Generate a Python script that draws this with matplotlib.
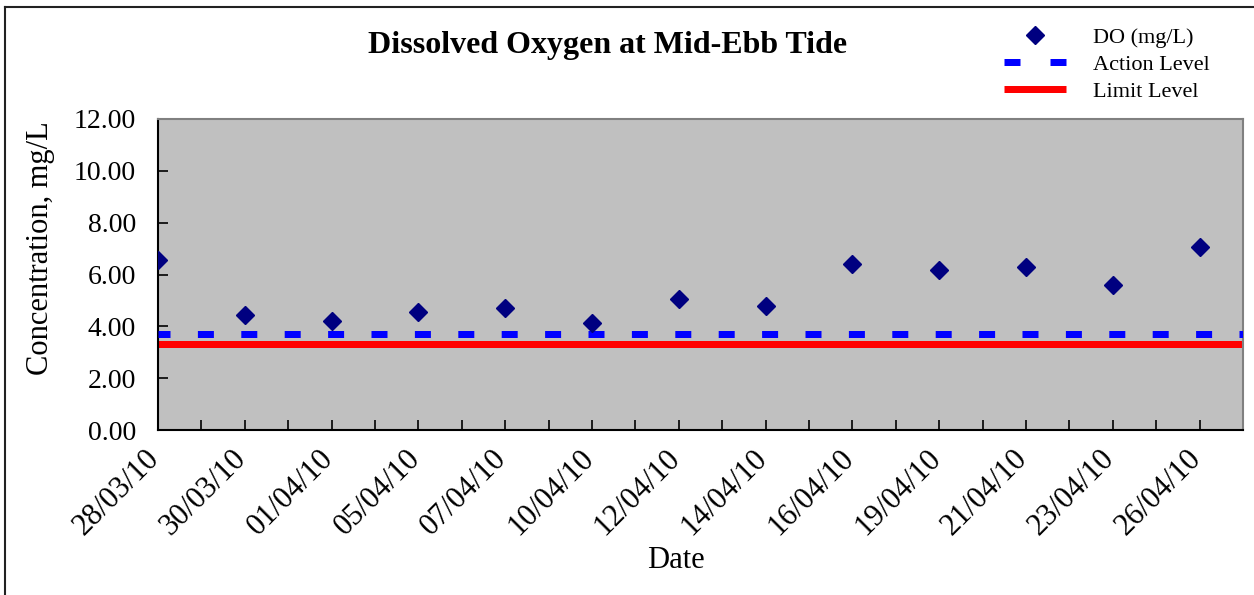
import matplotlib
matplotlib.use("Agg")
import matplotlib.pyplot as plt
import matplotlib.transforms as mtransforms
from matplotlib.lines import Line2D
import numpy as np

plt.rcParams["font.family"] = ["Liberation Serif", "DejaVu Serif"]
plt.rcParams["lines.scale_dashes"] = False

# categories (only every other one is labelled in the chart)
dates = [
    "28/03/10", "29/03/10", "30/03/10", "31/03/10", "01/04/10", "03/04/10",
    "05/04/10", "06/04/10", "07/04/10", "08/04/10", "10/04/10", "11/04/10",
    "12/04/10", "13/04/10", "14/04/10", "15/04/10", "16/04/10", "17/04/10",
    "19/04/10", "20/04/10", "21/04/10", "22/04/10", "23/04/10", "24/04/10",
    "26/04/10", "27/04/10",
]
do_values = [
    6.56, None, 4.44, None, 4.20, None, 4.55, None, 4.70, None, 4.13, None,
    5.05, None, 4.78, None, 6.40, None, 6.17, None, 6.28, None, 5.59, None,
    7.06, None,
]
action_level = 3.7
limit_level = 3.3
y_ticks = [0, 2, 4, 6, 8, 10, 12]

W, H = 1254, 595
PX = 72 / 100  # points per pixel


def main():
    fig = plt.figure(figsize=(W / 100, H / 100), dpi=100)
    ax = fig.add_axes([158 / W, 1 - 430 / H, (1243 - 158) / W, (430 - 119) / H])
    ax.set_facecolor("#C0C0C0")

    x = np.arange(len(dates))
    do = np.array([np.nan if v is None else v for v in do_values])

    ax.plot(x, [limit_level] * len(x), color="#FF0000", lw=7 * PX,
            solid_capstyle="butt", zorder=2)
    ax.plot(x, [action_level] * len(x), color="#0000FF", lw=7 * PX,
            linestyle=(4 * PX, (16 * PX, 27.4 * PX)),
            dash_capstyle="butt", zorder=3)
    ax.plot(x, do, linestyle="none", marker="D", markersize=9,
            color="#000080", zorder=4)

    ax.set_xlim(0, len(dates) - 1)
    ax.set_ylim(0, 12)
    ax.set_yticks(y_ticks)
    ax.set_yticklabels(["%.2f" % v for v in y_ticks], fontsize=20)
    ax.set_xticks(x)
    ax.set_xticklabels([d if i % 2 == 0 else "" for i, d in enumerate(dates)],
                       fontsize=22, rotation=45, ha="right",
                       rotation_mode="anchor")
    ax.tick_params(axis="both", direction="in", length=10 * PX, width=1.2,
                   color="black")
    ax.tick_params(axis="y", pad=16)
    ax.tick_params(axis="x", pad=10)
    shift = mtransforms.ScaledTranslation(-13 / 100, 0, fig.dpi_scale_trans)
    for lbl in ax.get_xticklabels():
        lbl.set_transform(lbl.get_transform() + shift)

    for side in ["left", "bottom"]:
        ax.spines[side].set_color("black")
        ax.spines[side].set_linewidth(1.5)
    for side in ["top", "right"]:
        ax.spines[side].set_color("#808080")
        ax.spines[side].set_linewidth(1.5)

    fig.text(608 / W, 1 - 46 / H, "Dissolved Oxygen at Mid-Ebb Tide",
             fontsize=23, fontweight="bold", ha="center", va="center")
    fig.text(41 / W, 1 - 248 / H, "Concentration, mg/L", fontsize=22,
             rotation=90, ha="center", va="center")
    fig.text(676 / W, 1 - 560 / H, "Date", fontsize=22, ha="center",
             va="center")

    # legend with proxy handles
    handles = [
        Line2D([], [], linestyle="none", marker="D", markersize=9,
               color="#000080"),
        Line2D([], [], color="#0000FF", lw=7 * PX,
               linestyle=(0, (16 * PX, 30 * PX)), dash_capstyle="butt"),
        Line2D([], [], color="#FF0000", lw=7 * PX, solid_capstyle="butt"),
    ]
    fig.legend(handles, ["DO (mg/L)", "Action Level", "Limit Level"],
               loc="upper left", bbox_to_anchor=(1004 / W, 1 - 27 / H),
               frameon=False, fontsize=16, handlelength=2.8,
               handletextpad=1.2, labelspacing=0.3, borderpad=0,
               borderaxespad=0)

    # outer frame (top and left edges)
    fig.add_artist(Line2D([5 / W, 1], [1 - 7 / H, 1 - 7 / H], color="#222222",
                          lw=1.5, transform=fig.transFigure))
    fig.add_artist(Line2D([5 / W, 5 / W], [0, 1 - 7 / H], color="#222222",
                          lw=1.5, transform=fig.transFigure))

    fig.savefig("out.png", dpi=100)


if __name__ == "__main__":
    main()
